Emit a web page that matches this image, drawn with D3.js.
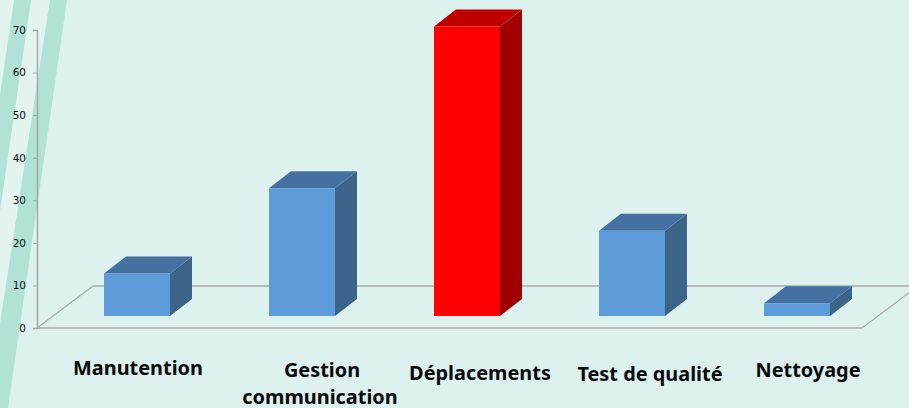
<!DOCTYPE html>
<html>
<head>
<meta charset="utf-8">
<script src="https://cdn.jsdelivr.net/npm/d3@7"></script>
<style>
html, body { margin: 0; padding: 0; background: #ddf1ee; overflow: hidden; }
svg { display: block; }
</style>
</head>
<body>
<svg id="canvas" width="909" height="408"></svg>
<script>
// data
const categories = ["Manutention", "Gestion communication", "Déplacements", "Test de qualité", "Nettoyage"];
const values = [10, 30, 68, 20, 3];
const yTicks = [0, 10, 20, 30, 40, 50, 60, 70];
const highlighted = ["Déplacements"];

// the labels do not sit exactly under the bars in the original: [dx, y of first line]
const labelNudge = [[1, 375], [20, 377], [13, 380], [18, 381], [11, 377]];
const labelLines = { "Gestion communication": ["Gestion", "communication"] };

const width = 909, height = 408;
const floorDepth = { x: 56, y: -42 };   // floor going back
const barDepth = { x: 22, y: -17 };     // depth of one box
const barInset = { x: 17.5, y: -12 };   // boxes stand a bit inside the floor

const canvas = d3.select("#canvas");

const x = d3.scaleBand().domain(categories).range([37, 862]).paddingInner(0.6).paddingOuter(0.3);
const y = d3.scaleLinear().domain([0, 70]).range([328, 30]);

// background: lighter area on the left, then two slanted stripes
// each stripe is [left at top, right at top, left at bottom, right at bottom]
const stripes = [[14, 31, -46, -29], [50, 67, -13, 8]];
canvas.append("rect").attr("width", width).attr("height", height).attr("fill", "#ddf1ee");
canvas.append("path")
    .attr("fill", "#e2f3f0")
    .attr("d", d3.line()([[0, 0], [50, 0], [-13, height], [0, height]]) + "Z");
canvas.selectAll("path.stripe")
    .data(stripes)
    .enter()
    .append("path")
    .attr("class", "stripe")
    .attr("fill", "#b1e2d6")
    .attr("d", d => d3.line()([[d[0], 0], [d[1], 0], [d[3], height], [d[2], height]]) + "Z");

// floor
const floorY = y(0);
const floorLeft = x.range()[0], floorRight = x.range()[1];
const floorLines = [
    { p: [[floorLeft, floorY], [floorRight, floorY]], w: 1.6 },
    { p: [[floorLeft, floorY], [floorLeft + floorDepth.x, floorY + floorDepth.y]], w: 1.2 },
    { p: [[floorLeft + floorDepth.x, floorY + floorDepth.y], [width, floorY + floorDepth.y]], w: 1.6 },
    { p: [[floorRight, floorY], [floorRight + floorDepth.x, floorY + floorDepth.y]], w: 1.2 }
];
canvas.selectAll("path.floor")
    .data(floorLines)
    .enter()
    .append("path")
    .attr("class", "floor")
    .attr("d", d => d3.line()(d.p))
    .attr("fill", "none")
    .attr("stroke", "#a8adab")
    .attr("stroke-width", d => d.w);

// y axis
const yAxis = canvas.append("g")
    .attr("transform", "translate(" + floorLeft + ",0)")
    .call(d3.axisLeft(y).tickValues(yTicks).tickSize(4).tickPadding(7));
yAxis.select(".domain").attr("stroke", "#a6a6a6").attr("stroke-width", 1.5);
yAxis.selectAll(".tick line").attr("stroke", "#a6a6a6");
yAxis.selectAll(".tick text")
    .attr("fill", "#111")
    .style("font-family", "'DejaVu Sans'")
    .style("font-size", "10.5px");

// boxes
const boxes = canvas.selectAll("g.box")
    .data(categories.map((c, i) => ({ name: c, value: values[i] })))
    .enter()
    .append("g")
    .attr("class", "box");

const shade = d => highlighted.includes(d.name)
    ? { front: "#ff0000", top: "#c00000", side: "#a00000" }
    : { front: "#5e9bd9", top: "#44719f", side: "#3c6488" };

const left = d => x(d.name) + barInset.x;
const right = d => left(d) + x.bandwidth();
const topY = d => y(d.value) + barInset.y;
const baseY = () => y(0) + barInset.y;

boxes.append("path")
    .attr("fill", d => shade(d).side)
    .attr("d", d => d3.line()([
        [right(d), topY(d)], [right(d) + barDepth.x, topY(d) + barDepth.y],
        [right(d) + barDepth.x, baseY() + barDepth.y], [right(d), baseY()]
    ]) + "Z");
boxes.append("path")
    .attr("fill", d => shade(d).top)
    .attr("d", d => d3.line()([
        [left(d), topY(d)], [left(d) + barDepth.x, topY(d) + barDepth.y],
        [right(d) + barDepth.x, topY(d) + barDepth.y], [right(d), topY(d)]
    ]) + "Z");
boxes.append("rect")
    .attr("fill", d => shade(d).front)
    .attr("x", left)
    .attr("y", topY)
    .attr("width", x.bandwidth())
    .attr("height", d => baseY() - topY(d));

// category labels
const labels = canvas.selectAll("text.cat")
    .data(categories)
    .enter()
    .append("text")
    .attr("class", "cat")
    .attr("text-anchor", "middle")
    .attr("fill", "#0a0a0a")
    .style("font-family", "'Noto Sans'")
    .style("font-weight", "700")
    .style("font-size", "19.9px");

labels.each(function(c, i) {
    const lines = labelLines[c] || [c];
    const cx = x(c) + x.bandwidth() / 2 + barInset.x + labelNudge[i][0];
    lines.forEach((line, k) => {
        d3.select(this).append("tspan")
            .attr("x", k == 0 ? cx : cx - 2)
            .attr("y", labelNudge[i][1] + k * 27)
            .text(line);
    });
});
</script>
</body>
</html>
